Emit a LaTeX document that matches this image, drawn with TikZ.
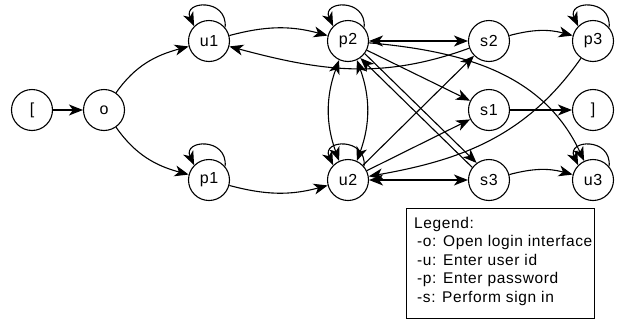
\documentclass[tikz,border=0pt]{standalone}
\usepackage{fontspec}
\setmainfont{Liberation Sans}[LetterSpace=4]
\usetikzlibrary{arrows.meta}

\begin{document}
\begin{tikzpicture}[x=1pt,y=1pt,
  state/.style={circle, draw, line width=1.1pt, minimum size=41pt, inner sep=0pt,
                font=\fontsize{16}{18}\selectfont},
  arr/.style={-{Stealth[length=14pt,width=11pt,inset=4pt]}, line width=1.1pt},
  darr/.style={{Stealth[length=14pt,width=11pt,inset=4pt]}-{Stealth[length=14pt,width=11pt,inset=4pt]}, line width=1.1pt},
  legendline/.style={anchor=base west, inner sep=0pt, font=\fontsize{15.5}{18}\selectfont}
]
\useasboundingbox (0,0) rectangle (619,-322);

% states
\node[state] (start) at (32,-110)  {[};
\node[state] (o)     at (104,-110) {o};
\node[state] (u1)    at (209,-41)  {u1};
\node[state] (p1)    at (209,-180) {p1};
\node[state] (p2)    at (348,-41)  {p2};
\node[state] (u2)    at (348,-180) {u2};
\node[state] (s2)    at (489,-41)  {s2};
\node[state] (s1)    at (489,-110) {s1};
\node[state] (s3)    at (489,-180) {s3};
\node[state] (p3)    at (593,-41)  {p3};
\node[state] (end)   at (593,-110) {]};
\node[state] (u3)    at (593,-180) {u3};

% self loops
\foreach \n in {u1,p1,p2,u2,p3,u3}
  \draw[arr] (\n.40) .. controls +(85:30) and +(115:28) .. (\n.135);

% transitions
\draw[arr] (start) -- (o);
\draw[arr] (o) to[out=55,in=195] (u1);
\draw[arr] (o) to[out=-55,in=165] (p1);
\draw[arr] (u1) to[out=15,in=165] (p2);
\draw[arr] (p1) to[out=-15,in=195] (u2);

\draw[darr] (p2.-115) to[out=-110,in=110] (u2.115);
\draw[darr] (p2.-65) to[out=-70,in=70] (u2.65);

\draw[darr] (p2) -- (s2);
\draw[arr] (s2) to[out=200,in=-15] (u1);
\draw[arr] (s2) to[out=15,in=165] (p3);
\draw[arr] (p2) -- (s1);
\draw[arr] (p2.-37) -- (s3.126);
\draw[arr] (s3.143) -- (p2.-54);
\draw[arr] (p2) to[out=-5,in=115] (u3);

\draw[arr] (u2) -- (s2);
\draw[arr] (u2) -- (s1);
\draw[darr] (u2) -- (s3);
\draw[arr] (p3) to[out=235,in=10] (u2);
\draw[arr] (s1) -- (end);
\draw[arr] (s3) to[out=15,in=165] (u3);

% legend
\node[draw, line width=1.1pt, inner sep=0pt, minimum width=188pt, minimum height=110pt,
      anchor=north west] (legend) at (406,-208) {};
\node[legendline] (l0) at (414,-228)   {Legend:};
\node[legendline] (l1) at (417,-246.5) {-o: Open login interface};
\node[legendline] (l2) at (417,-265)   {-u: Enter user id};
\node[legendline] (l3) at (417,-283.5) {-p: Enter password};
\node[legendline] (l4) at (417,-302)   {-s: Perform sign in};
\end{tikzpicture}
\end{document}
